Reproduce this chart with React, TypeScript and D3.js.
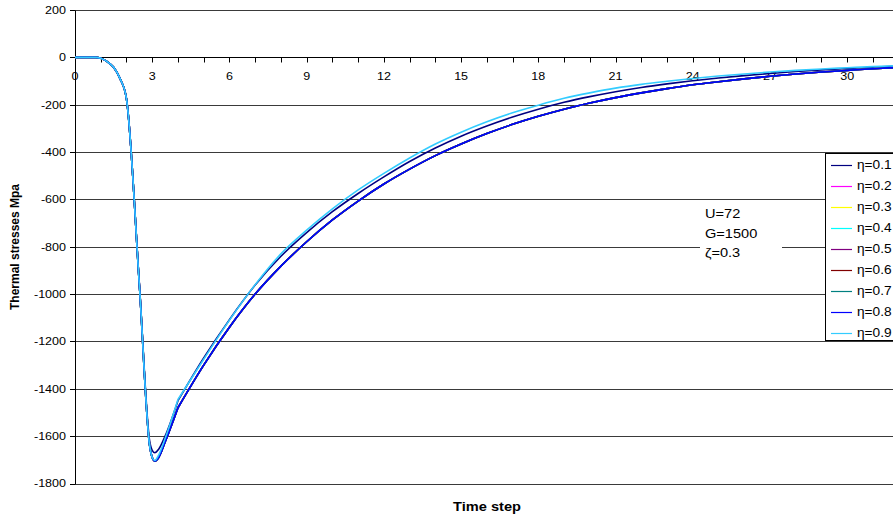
import React from "react";
import * as d3 from "d3";

// time steps (finer sampling at the start of the pulse)
const timeSteps = [
  0, 0.5, 0.8, 1, 1.25, 1.5, 1.75, 2, 2.5, 2.9, 3, 3.1, 3.25, 3.5, 4,
  5, 6, 7, 8, 9, 10, 11, 12, 13, 14, 15, 16, 17, 18, 19, 20, 21, 22, 23, 24,
  25, 26, 27, 28, 29, 30, 31, 32, 33, 34, 35,
];

// η = 0.1
const stressEta01 = [
  0, 0, 0, -4, -18, -42, -90, -175, -955, -1620, -1660, -1670, -1655, -1600, -1450,
  -1270, -1108, -962, -840, -740, -652, -575, -505, -440, -383, -333, -290, -252, -219, -190, -166,
  -145, -127, -112, -99, -87, -77, -68, -60, -53, -47, -42, -37, -33, -29, -26,
];

// η = 0.2 … 0.8 (curves lie on top of each other)
const stressEtaMid = [
  0, 0, 0, -4, -18, -42, -90, -175, -960, -1640, -1690, -1705, -1690, -1625, -1480,
  -1300, -1140, -1000, -882, -779, -687, -607, -535, -472, -415, -366, -322, -283, -249, -219, -193,
  -170, -150, -132, -116, -103, -91, -80, -70, -62, -55, -48, -42, -37, -33, -29,
];

// η = 0.9
const stressEta09 = [
  0, 0, 0, -4, -18, -42, -90, -175, -960, -1640, -1690, -1703, -1680, -1610, -1445,
  -1275, -1110, -960, -830, -730, -640, -560, -490, -425, -366, -316, -272, -234, -202, -173, -150,
  -130, -114, -101, -89, -79, -70, -62, -55, -49, -44, -39, -35, -31, -28, -25,
];

const seriesNames = ["η=0.1", "η=0.2", "η=0.3", "η=0.4", "η=0.5", "η=0.6", "η=0.7", "η=0.8", "η=0.9"];
const seriesColors = ["#000080", "#FF00FF", "#FFFF00", "#00FFFF", "#800080", "#800000", "#008080", "#0000FF", "#33CCFF"];
const seriesValues = [
  stressEta01, stressEtaMid, stressEtaMid, stressEtaMid, stressEtaMid,
  stressEtaMid, stressEtaMid, stressEtaMid, stressEta09,
];

const yTicks = [200, 0, -200, -400, -600, -800, -1000, -1200, -1400, -1600, -1800];
const xTickStep = 1;
const xLabelStep = 3;
const annotationLines = ["U=72", "G=1500", "ζ=0.3"];
const breakStep = 4;

const W = 893;
const H = 523;
const FONT = "'Liberation Sans', Arial, Helvetica, sans-serif";
const SX = 1.14; // horizontal widening of the reference's text

function HText(props: {
  x: number;
  y: number;
  size: number;
  anchor?: "start" | "middle" | "end";
  bold?: boolean;
  sx?: number;
  dy?: string;
  children: React.ReactNode;
}) {
  const { x, y, size, anchor = "start", bold = false, sx = SX, dy } = props;
  return (
    <text
      transform={`translate(${x},${y}) scale(${sx},1)`}
      dy={dy}
      textAnchor={anchor}
      fontSize={size}
      fontWeight={bold ? "bold" : "normal"}
      fill="#000"
    >
      {props.children}
    </text>
  );
}

export default function App() {
  const x = d3.scaleLinear().domain([0, 35]).range([75, 75 + 35 * 25.74]);
  const y = d3.scaleLinear().domain([-1800, 200]).range([483.5, 10]);
  const px = (v: number) => Math.round(v) + 0.5;

  const xTicks = d3.range(0, 36, xTickStep);
  const line = d3
    .line<[number, number]>()
    .x((d) => x(d[0]))
    .y((d) => y(d[1]))
    .curve(d3.curveMonotoneX);

  const y0 = px(y(0));
  const right = W + 20;

  return (
    <svg
      width={W}
      height={H}
      style={{ position: "absolute", left: 0, top: 0, background: "#fff", fontFamily: FONT }}
    >
      <rect x={0} y={0} width={W} height={H} fill="#fff" />
      {/* gridlines */}
      {yTicks.map((t) => (
        <line key={t} x1={75} x2={right} y1={px(y(t))} y2={px(y(t))} stroke="#3a3a3a" strokeWidth={1} />
      ))}
      {/* y axis */}
      <line x1={px(75)} x2={px(75)} y1={px(y(200))} y2={px(y(-1800))} stroke="#000" />
      {yTicks.map((t) => (
        <g key={"yt" + t}>
          <line x1={70} x2={75} y1={px(y(t))} y2={px(y(t))} stroke="#000" />
          <HText x={66} y={y(t)} dy="0.35em" anchor="end" size={11}>
            {t}
          </HText>
        </g>
      ))}
      {/* x axis at zero */}
      <line x1={75} x2={right} y1={y0} y2={y0} stroke="#000" />
      {xTicks
        .filter((t) => x(t) <= W)
        .map((t) => (
          <g key={"xt" + t}>
            <line x1={px(x(t))} x2={px(x(t))} y1={y0} y2={y0 + 5} stroke="#000" />
            {t % xLabelStep === 0 && x(t) < W - 10 && (
              <HText x={x(t)} y={80} anchor="middle" size={11}>
                {t}
              </HText>
            )}
          </g>
        ))}
      {/* curves */}
      {seriesValues.map((vals, i) => {
        const pts: [number, number][] = timeSteps.map((t, j) => [t, vals[j]]);
        const a = pts.filter((p) => p[0] <= breakStep);
        const b = pts.filter((p) => p[0] >= breakStep);
        return (
          <g key={"s" + i} fill="none" stroke={seriesColors[i]} strokeWidth={1.6} strokeLinejoin="round">
            <path d={line(a) || ""} />
            <path d={line(b) || ""} />
          </g>
        );
      })}
      {/* annotation */}
      <rect x={700} y={204} width={82} height={58} fill="#fff" />
      {annotationLines.map((s, i) => (
        <HText key={s} x={705} y={218 + i * 19.5} size={13.5} sx={1.08}>
          {s}
        </HText>
      ))}
      {/* legend */}
      <rect x={825.5} y={153.5} width={90} height={187} fill="#fff" stroke="#000" />
      {seriesNames.map((n, i) => {
        const cy = 165 + i * 21;
        return (
          <g key={n}>
            <line x1={831} x2={852} y1={cy + 0.5} y2={cy + 0.5} stroke={seriesColors[i]} strokeWidth={1.2} />
            <HText x={857} y={cy} dy="0.35em" size={12}>
              {n}
            </HText>
          </g>
        );
      })}
      {/* axis titles */}
      <text
        transform={`translate(19,247) rotate(-90)`}
        textAnchor="middle"
        fontSize={12}
        fontWeight="bold"
        fill="#000"
      >
        Thermal stresses Mpa
      </text>
      <HText x={487} y={511} anchor="middle" size={12} bold sx={1.22}>
        Time step
      </HText>
    </svg>
  );
}
